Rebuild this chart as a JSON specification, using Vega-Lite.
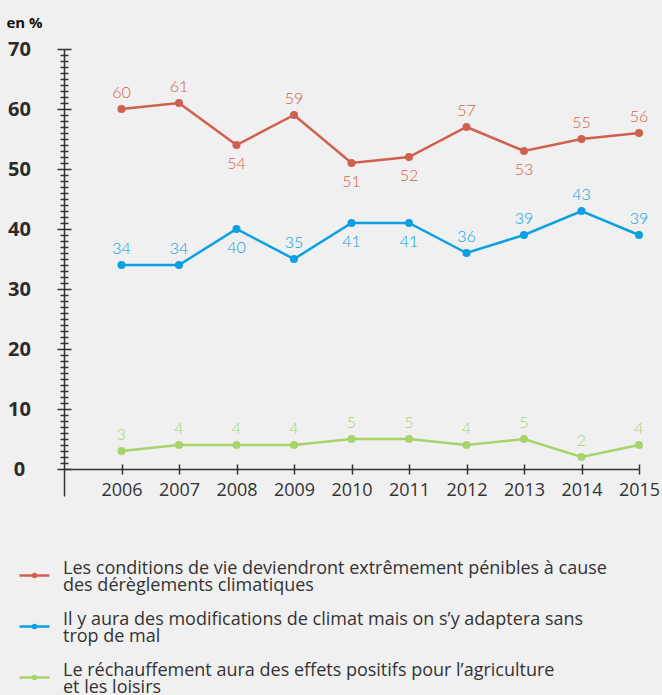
{
  "$schema": "https://vega.github.io/schema/vega-lite/v6.json",
  "autosize": {"type": "none"},
  "width": 575,
  "height": 447,
  "padding": {"left": 64, "top": 49, "right": 23, "bottom": 199},
  "background": "#f0f0f0",
  "config": {"view": {"stroke": null}, "font": "Open Sans"},
  "data": {
    "values": [
      {"annee": 2006, "serie": "Les conditions de vie deviendront extrêmement pénibles à cause des dérèglements climatiques", "valeur": 60, "position": "haut"},
      {"annee": 2007, "serie": "Les conditions de vie deviendront extrêmement pénibles à cause des dérèglements climatiques", "valeur": 61, "position": "haut"},
      {"annee": 2008, "serie": "Les conditions de vie deviendront extrêmement pénibles à cause des dérèglements climatiques", "valeur": 54, "position": "bas"},
      {"annee": 2009, "serie": "Les conditions de vie deviendront extrêmement pénibles à cause des dérèglements climatiques", "valeur": 59, "position": "haut"},
      {"annee": 2010, "serie": "Les conditions de vie deviendront extrêmement pénibles à cause des dérèglements climatiques", "valeur": 51, "position": "bas"},
      {"annee": 2011, "serie": "Les conditions de vie deviendront extrêmement pénibles à cause des dérèglements climatiques", "valeur": 52, "position": "bas"},
      {"annee": 2012, "serie": "Les conditions de vie deviendront extrêmement pénibles à cause des dérèglements climatiques", "valeur": 57, "position": "haut"},
      {"annee": 2013, "serie": "Les conditions de vie deviendront extrêmement pénibles à cause des dérèglements climatiques", "valeur": 53, "position": "bas"},
      {"annee": 2014, "serie": "Les conditions de vie deviendront extrêmement pénibles à cause des dérèglements climatiques", "valeur": 55, "position": "haut"},
      {"annee": 2015, "serie": "Les conditions de vie deviendront extrêmement pénibles à cause des dérèglements climatiques", "valeur": 56, "position": "haut"},
      {"annee": 2006, "serie": "Il y aura des modifications de climat mais on s’y adaptera sans trop de mal", "valeur": 34, "position": "haut"},
      {"annee": 2007, "serie": "Il y aura des modifications de climat mais on s’y adaptera sans trop de mal", "valeur": 34, "position": "haut"},
      {"annee": 2008, "serie": "Il y aura des modifications de climat mais on s’y adaptera sans trop de mal", "valeur": 40, "position": "bas"},
      {"annee": 2009, "serie": "Il y aura des modifications de climat mais on s’y adaptera sans trop de mal", "valeur": 35, "position": "haut"},
      {"annee": 2010, "serie": "Il y aura des modifications de climat mais on s’y adaptera sans trop de mal", "valeur": 41, "position": "bas"},
      {"annee": 2011, "serie": "Il y aura des modifications de climat mais on s’y adaptera sans trop de mal", "valeur": 41, "position": "bas"},
      {"annee": 2012, "serie": "Il y aura des modifications de climat mais on s’y adaptera sans trop de mal", "valeur": 36, "position": "haut"},
      {"annee": 2013, "serie": "Il y aura des modifications de climat mais on s’y adaptera sans trop de mal", "valeur": 39, "position": "haut"},
      {"annee": 2014, "serie": "Il y aura des modifications de climat mais on s’y adaptera sans trop de mal", "valeur": 43, "position": "haut"},
      {"annee": 2015, "serie": "Il y aura des modifications de climat mais on s’y adaptera sans trop de mal", "valeur": 39, "position": "haut"},
      {"annee": 2006, "serie": "Le réchauffement aura des effets positifs pour l’agriculture et les loisirs", "valeur": 3, "position": "haut"},
      {"annee": 2007, "serie": "Le réchauffement aura des effets positifs pour l’agriculture et les loisirs", "valeur": 4, "position": "haut"},
      {"annee": 2008, "serie": "Le réchauffement aura des effets positifs pour l’agriculture et les loisirs", "valeur": 4, "position": "haut"},
      {"annee": 2009, "serie": "Le réchauffement aura des effets positifs pour l’agriculture et les loisirs", "valeur": 4, "position": "haut"},
      {"annee": 2010, "serie": "Le réchauffement aura des effets positifs pour l’agriculture et les loisirs", "valeur": 5, "position": "haut"},
      {"annee": 2011, "serie": "Le réchauffement aura des effets positifs pour l’agriculture et les loisirs", "valeur": 5, "position": "haut"},
      {"annee": 2012, "serie": "Le réchauffement aura des effets positifs pour l’agriculture et les loisirs", "valeur": 4, "position": "haut"},
      {"annee": 2013, "serie": "Le réchauffement aura des effets positifs pour l’agriculture et les loisirs", "valeur": 5, "position": "haut"},
      {"annee": 2014, "serie": "Le réchauffement aura des effets positifs pour l’agriculture et les loisirs", "valeur": 2, "position": "haut"},
      {"annee": 2015, "serie": "Le réchauffement aura des effets positifs pour l’agriculture et les loisirs", "valeur": 4, "position": "haut"}
    ]
  },
  "encoding": {
    "x": {"field": "annee", "type": "quantitative", "scale": {"domain": [2005, 2015], "nice": false, "zero": false}, "axis": null},
    "y": {"field": "valeur", "type": "quantitative", "scale": {"domain": [-4.5, 70], "nice": false, "zero": false}, "axis": null},
    "color": {
      "field": "serie",
      "type": "nominal",
      "scale": {
        "domain": [
          "Les conditions de vie deviendront extrêmement pénibles à cause des dérèglements climatiques",
          "Il y aura des modifications de climat mais on s’y adaptera sans trop de mal",
          "Le réchauffement aura des effets positifs pour l’agriculture et les loisirs"
        ],
        "range": ["#d0604e", "#0aa0e2", "#a6d46a"]
      },
      "legend": {
        "orient": "none",
        "legendX": -46,
        "legendY": 510,
        "title": null,
        "direction": "vertical",
        "symbolType": "M-1,0H1M-0.1,0A0.1,0.1,0,1,1,0.1,0A0.1,0.1,0,1,1,-0.1,0",
        "symbolSize": 900,
        "symbolStrokeWidth": 2.5,
        "labelFont": "Open Sans",
        "labelFontSize": 18,
        "labelColor": "#333333",
        "labelLimit": 0,
        "labelOffset": 12,
        "rowPadding": 15,
        "labelExpr": "split(replace(replace(replace(datum.label, ' à cause ', ' à cause|'), ' sans ', ' sans|'), 'agriculture ', 'agriculture|'), '|')",
        "encode": {
          "symbols": {"update": {"fill": {"scale": "color", "field": "value"}, "stroke": {"scale": "color", "field": "value"}}},
          "labels": {"update": {"dy": {"value": -7}, "lineHeight": {"value": 17}}}
        }
      }
    }
  },
  "layer": [
    {
      "mark": {"type": "line", "strokeWidth": 2.5},
      "encoding": {
        "x": {
          "field": "annee", "type": "quantitative",
          "scale": {"domain": [2005, 2015], "nice": false, "zero": false},
          "axis": {
            "orient": "bottom", "offset": -27, "values": [2006, 2007, 2008, 2009, 2010, 2011, 2012, 2013, 2014, 2015],
            "format": "d", "grid": false, "domainColor": "#333333", "domainWidth": 1.5,
            "tickColor": "#333333", "tickWidth": 1.5, "tickSize": 5, "labelOverlap": false, "labelFlush": false, "labelBound": false,
            "labelFont": "Open Sans", "labelFontSize": 18, "labelColor": "#333333", "labelPadding": 7, "title": null
          }
        },
        "y": {
          "field": "valeur", "type": "quantitative",
          "scale": {"domain": [-4.5, 70], "nice": false, "zero": false},
          "axis": {
            "orient": "left",
            "values": [0,1,2,3,4,5,6,7,8,9,10,11,12,13,14,15,16,17,18,19,20,21,22,23,24,25,26,27,28,29,30,31,32,33,34,35,36,37,38,39,40,41,42,43,44,45,46,47,48,49,50,51,52,53,54,55,56,57,58,59,60,61,62,63,64,65,66,67,68,69,70],
            "grid": false, "domainColor": "#333333", "domainWidth": 1.5,
            "tickColor": "#333333", "tickWidth": 1.5,
            "tickSize": {"condition": {"test": "datum.value % 10 === 0", "value": 7}, "value": 4},
            "labelExpr": "datum.value % 10 === 0 ? datum.label : ''",
            "labelFont": "Open Sans", "labelFontSize": 20, "labelFontWeight": "bold", "labelColor": "#2b2b2b",
            "labelAlign": "center", "labelBaseline": "middle", "labelPadding": 38, "labelOverlap": false, "labelFlush": false,
            "title": "en %", "titleAngle": 0, "titleAlign": "left", "titleBaseline": "middle",
            "titleX": -58, "titleY": -27, "titleFont": "Open Sans", "titleFontSize": 15, "titleFontWeight": "bold", "titleColor": "#111111"
          }
        }
      }
    },
    {
      "mark": {"type": "point", "filled": true, "size": 65, "opacity": 1},
      "encoding": {
        "x": {
          "field": "annee", "type": "quantitative",
          "scale": {"domain": [2005, 2015], "nice": false, "zero": false},
          "axis": {
            "orient": "bottom", "offset": -27, "values": [2006, 2007, 2008, 2009, 2010, 2011, 2012, 2013, 2014, 2015],
            "grid": false, "domain": false, "labels": false, "title": null,
            "tickColor": "#333333", "tickWidth": 1.5, "tickSize": -5
          }
        },
        "y": {
          "field": "valeur", "type": "quantitative",
          "scale": {"domain": [-4.5, 70], "nice": false, "zero": false},
          "axis": {
            "orient": "left",
            "values": [0,1,2,3,4,5,6,7,8,9,10,11,12,13,14,15,16,17,18,19,20,21,22,23,24,25,26,27,28,29,30,31,32,33,34,35,36,37,38,39,40,41,42,43,44,45,46,47,48,49,50,51,52,53,54,55,56,57,58,59,60,61,62,63,64,65,66,67,68,69,70],
            "grid": false, "domain": false, "labels": false, "title": null,
            "tickColor": "#333333", "tickWidth": 1.5,
            "tickSize": {"condition": {"test": "datum.value % 10 === 0", "value": -7}, "value": -4}
          }
        }
      }
    },
    {
      "transform": [{"filter": "datum.position === 'haut'"}],
      "mark": {"type": "text", "dy": -16, "fontSize": 16, "font": "Lato", "fontWeight": 300, "baseline": "middle"},
      "encoding": {"text": {"field": "valeur", "type": "quantitative"}}
    },
    {
      "transform": [{"filter": "datum.position === 'bas'"}],
      "mark": {"type": "text", "dy": 19, "fontSize": 16, "font": "Lato", "fontWeight": 300, "baseline": "middle"},
      "encoding": {"text": {"field": "valeur", "type": "quantitative"}}
    }
  ],
  "resolve": {"axis": {"x": "independent", "y": "independent"}}
}
